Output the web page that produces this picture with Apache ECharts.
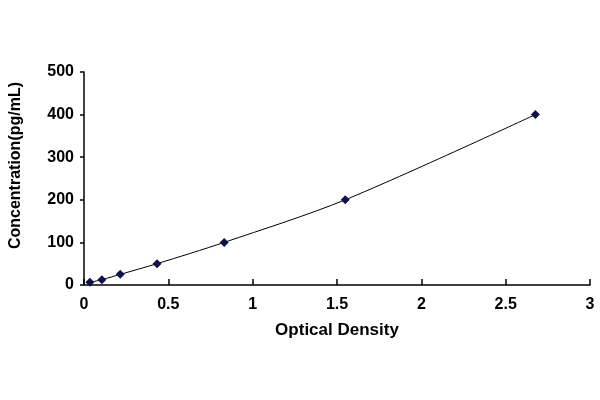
<!DOCTYPE html>
<html>
<head>
<meta charset="utf-8">
<script src="https://cdn.jsdelivr.net/npm/echarts@6/dist/echarts.min.js"></script>
<style>html,body{margin:0;padding:0;background:#fff}#c{width:600px;height:400px}</style>
</head>
<body>
<div id="c"></div>
<script>
var opticalDensity = [0.035, 0.106, 0.215, 0.433, 0.831, 1.549, 2.676];
var concentration = [6.25, 12.5, 25, 50, 100, 200, 400];
var xTicks = [0, 0.5, 1, 1.5, 2, 2.5, 3];
var yTicks = [0, 100, 200, 300, 400, 500];

var points = opticalDensity.map(function (x, i) { return [x, concentration[i]]; });
var font = 'Arial, "Liberation Sans", sans-serif';
var chart = echarts.init(document.getElementById('c'));
chart.setOption({
  animation: false,
  backgroundColor: '#ffffff',
  grid: { left: 82, right: 10, top: 72, bottom: 115 },
  xAxis: {
    type: 'value', min: xTicks[0], max: xTicks[xTicks.length - 1], interval: 0.5,
    name: 'Optical Density', nameLocation: 'middle', nameGap: 37,
    nameTextStyle: { color: '#000', fontSize: 17, fontWeight: 'bold', fontFamily: font },
    axisLine: { lineStyle: { color: '#000', width: 1.5 } },
    axisTick: { inside: true, length: 6, lineStyle: { color: '#000', width: 1.5 } },
    axisLabel: { color: '#000', fontSize: 16, fontWeight: 'bold', fontFamily: font, margin: 12 },
    splitLine: { show: false }
  },
  yAxis: {
    type: 'value', min: yTicks[0], max: yTicks[yTicks.length - 1], interval: 100,
    name: 'Concentration(pg/mL)', nameLocation: 'middle', nameGap: 60,
    nameTextStyle: { color: '#000', fontSize: 16, fontWeight: 'bold', fontFamily: font, padding: [0, 0, 0, 26] },
    axisLine: { lineStyle: { color: '#000', width: 1.5 } },
    axisTick: { inside: false, length: 4, lineStyle: { color: '#000', width: 1.5 } },
    axisLabel: { color: '#000', fontSize: 16, fontWeight: 'bold', fontFamily: font, margin: 10 },
    splitLine: { show: false }
  },
  series: [{
    type: 'line',
    data: points,
    smooth: 0.3,
    symbol: 'diamond',
    symbolSize: 9,
    itemStyle: { color: '#10104a' },
    lineStyle: { color: '#000', width: 1 }
  }]
});
</script>
</body>
</html>
